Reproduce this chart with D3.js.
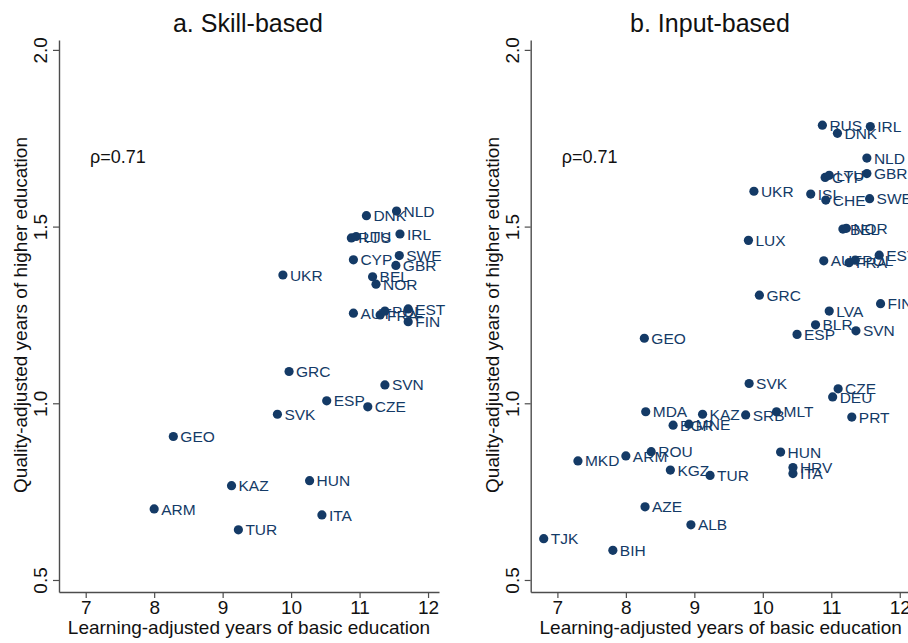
<!DOCTYPE html>
<html>
<head>
<meta charset="utf-8">
<script src="https://cdn.jsdelivr.net/npm/d3@7"></script>
<style>
  body { margin: 0; background: #fff; }
  text { font-family: "Liberation Sans", Arial, sans-serif; }
</style>
</head>
<body>
<script>
// panel a: skill-based
const skillCodes = ['NLD', 'DNK', 'RUS', 'LTU', 'IRL', 'CYP', 'SWE', 'GBR', 'BEL', 'NOR',
  'AUT', 'FRA', 'POL', 'EST', 'FIN', 'UKR', 'GRC', 'ESP', 'SVN', 'CZE',
  'SVK', 'GEO', 'KAZ', 'HUN', 'ARM', 'ITA', 'TUR'];
const skillX = [11.54, 11.10, 10.88, 10.95, 11.59, 10.91, 11.58, 11.53, 11.19, 11.24,
  10.91, 11.30, 11.37, 11.71, 11.71, 9.88, 9.97, 10.52, 11.37, 11.12,
  9.80, 8.28, 9.13, 10.27, 8.00, 10.45, 9.23];
const skillY = [1.544, 1.531, 1.468, 1.472, 1.479, 1.406, 1.418, 1.390, 1.358, 1.337,
  1.255, 1.250, 1.261, 1.267, 1.231, 1.363, 1.090, 1.007, 1.052, 0.990,
  0.969, 0.906, 0.767, 0.781, 0.701, 0.684, 0.642];

// panel b: input-based
const inputCodes = ['RUS', 'DNK', 'IRL', 'NLD', 'CYP', 'LTU', 'GBR', 'ISL', 'CHE', 'SWE',
  'UKR', 'BEL', 'NOR', 'LUX', 'AUT', 'FRA', 'POL', 'EST', 'GRC', 'FIN',
  'LVA', 'BLR', 'ESP', 'SVN', 'GEO', 'SVK', 'CZE', 'DEU', 'MDA', 'KAZ',
  'SRB', 'MLT', 'BGR', 'MNE', 'PRT', 'MKD', 'ARM', 'ROU', 'HUN', 'KGZ',
  'TUR', 'HRV', 'ITA', 'AZE', 'ALB', 'TJK', 'BIH'];
const inputX = [10.87, 11.09, 11.57, 11.52, 10.91, 10.97, 11.52, 10.70, 10.92, 11.56,
  9.87, 11.17, 11.22, 9.79, 10.89, 11.26, 11.35, 11.70, 9.95, 11.72,
  10.97, 10.77, 10.50, 11.36, 8.27, 9.80, 11.10, 11.02, 8.29, 9.12,
  9.75, 10.20, 8.69, 8.92, 11.30, 7.30, 8.00, 8.37, 10.26, 8.65,
  9.23, 10.44, 10.44, 8.28, 8.95, 6.80, 7.81];
const inputY = [1.787, 1.764, 1.783, 1.694, 1.639, 1.645, 1.650, 1.592, 1.575, 1.579,
  1.600, 1.493, 1.495, 1.461, 1.403, 1.398, 1.405, 1.419, 1.306, 1.282,
  1.261, 1.222, 1.195, 1.205, 1.184, 1.056, 1.041, 1.018, 0.976, 0.969,
  0.967, 0.976, 0.938, 0.941, 0.961, 0.837, 0.851, 0.863, 0.862, 0.811,
  0.796, 0.818, 0.801, 0.707, 0.656, 0.617, 0.584];

const xTicks = [7, 8, 9, 10, 11, 12];
const yTicks = [0.5, 1.0, 1.5, 2.0];
const panelTitles = ['a. Skill-based', 'b. Input-based'];
const rhoLabels = ['\u03c1=0.71', '\u03c1=0.71'];

const width = 908;
const height = 643;
const navy = '#143a66';
const axisColor = '#4d4d4d';

const svg = d3.select('body')
  .append('svg')
  .attr('width', width)
  .attr('height', height);

// shared vertical scale
const y = d3.scaleLinear()
  .domain([0.466, 2.028])
  .range([592, 40]);

function drawPanel(left, titleX, codes, xs, ys, title, rho) {
  const x = d3.scaleLinear()
    .domain([6.61, 12.16])
    .range([left, left + 380]);

  const g = svg.append('g');

  // title
  g.append('text')
    .attr('x', titleX)
    .attr('y', 32)
    .attr('text-anchor', 'middle')
    .style('font-size', '25px')
    .attr('fill', '#111')
    .text(title);

  // x axis
  const xAxis = g.append('g')
    .attr('transform', 'translate(0,592)')
    .call(d3.axisBottom(x).tickValues(xTicks).tickFormat(d3.format('d'))
      .tickSize(6).tickPadding(3).tickSizeOuter(0));
  xAxis.select('.domain').attr('stroke', axisColor).attr('stroke-width', 1.4);
  xAxis.selectAll('.tick line').attr('stroke', axisColor).attr('stroke-width', 1.2);
  xAxis.selectAll('.tick text')
    .attr('fill', '#111')
    .style('font-size', '19px')
    .style('font-family', '"Liberation Sans", Arial, sans-serif');

  // y axis
  const yAxis = g.append('g')
    .attr('transform', `translate(${left},0)`)
    .call(d3.axisLeft(y).tickValues(yTicks).tickFormat(d3.format('.1f')).tickSize(6).tickSizeOuter(0));
  yAxis.select('.domain').attr('stroke', axisColor).attr('stroke-width', 1.4);
  yAxis.selectAll('.tick line').attr('stroke', axisColor).attr('stroke-width', 1.2);
  yAxis.selectAll('.tick text')
    .attr('fill', '#111')
    .attr('x', 0)
    .attr('dy', 0)
    .attr('text-anchor', 'middle')
    .attr('transform', 'translate(-12,0) rotate(-90)')
    .style('font-size', '19px')
    .style('font-family', '"Liberation Sans", Arial, sans-serif');

  // axis titles
  g.append('text')
    .attr('x', left + 190)
    .attr('y', 634)
    .attr('text-anchor', 'middle')
    .style('font-size', '19px')
    .attr('fill', '#111')
    .text('Learning-adjusted years of basic education');

  g.append('text')
    .attr('transform', `translate(${left - 32},315) rotate(-90)`)
    .attr('text-anchor', 'middle')
    .style('font-size', '19px')
    .attr('fill', '#111')
    .text('Quality-adjusted years of higher education');

  // correlation note
  g.append('text')
    .attr('x', left + 31)
    .attr('y', 163)
    .style('font-size', '18px')
    .attr('fill', '#111')
    .text(rho);

  const pts = codes.map((c, i) => ({ code: c, x: xs[i], y: ys[i] }));

  const pt = g.selectAll('.pt')
    .data(pts)
    .enter()
    .append('g')
    .attr('class', 'pt');

  pt.append('circle')
    .attr('cx', d => x(d.x))
    .attr('cy', d => y(d.y))
    .attr('r', 4.6)
    .attr('fill', navy);

  pt.append('text')
    .attr('x', d => x(d.x) + 7)
    .attr('y', d => y(d.y))
    .attr('dy', '0.36em')
    .style('font-size', '15.5px')
    .attr('fill', navy)
    .text(d => d.code);
}

drawPanel(59, 248, skillCodes, skillX, skillY, panelTitles[0], rhoLabels[0]);
drawPanel(530.7, 710, inputCodes, inputX, inputY, panelTitles[1], rhoLabels[1]);
</script>
</body>
</html>
